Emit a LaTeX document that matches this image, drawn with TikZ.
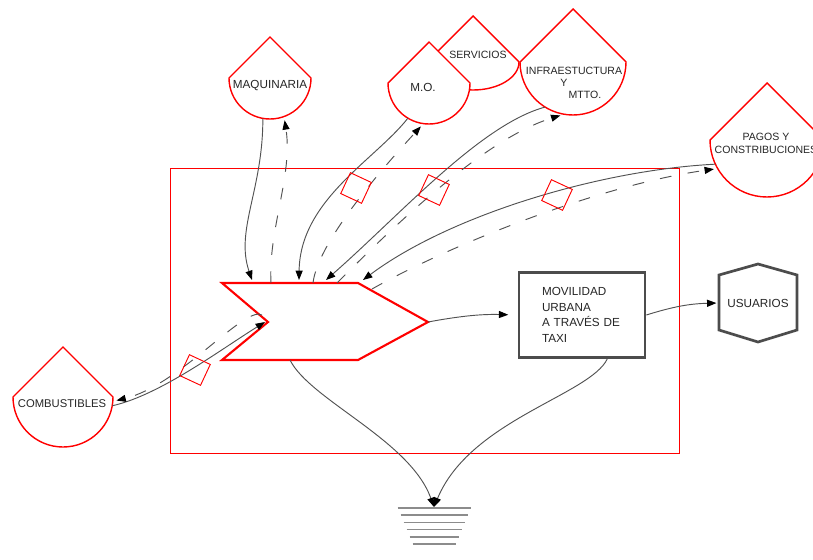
\documentclass[tikz,border=0pt]{standalone}
\usepackage{fontspec}
\setmainfont{Liberation Sans}
\usetikzlibrary{arrows.meta}

% gota: nombre, x, y, radio
\newcommand{\gota}[4]{%
  \filldraw[gota] (#2-#4,#3) -- (#2,#3+#4) -- (#2+#4,#3) arc[start angle=0,end angle=-180,radius=#4] -- cycle;
  \node[circle, minimum size=#4*0.06cm, inner sep=0pt] (#1) at (#2,#3) {};
}

\begin{document}
\begin{tikzpicture}[x=0.03cm, y=0.03cm,
    gota/.style={draw=red, line width=1.2pt, fill=white},
    marco/.style={draw=red, line width=0.8pt},
    chevron/.style={draw=red, line width=1.8pt, fill=white},
    caja/.style={draw=black!70, line width=2.3pt, fill=white},
    texto/.style={text=black!85, font=\fontsize{9}{11}\selectfont, inner sep=0pt, align=center},
    flujo/.style={draw=black!68, line width=0.8pt, -{Triangle[length=8pt,width=6pt,color=black]}},
    dinero/.style={flujo, dash pattern=on 10pt off 14pt, shorten >=3pt},
    valvula/.style={draw=red, line width=0.8pt, minimum size=0.69cm, inner sep=0pt, rotate=-25},
    tierra/.style={draw=black!45, line width=1.5pt}]
  \useasboundingbox (0,0) rectangle (813,-559);

  % sistema
  \draw[marco] (170,-168) rectangle (679,-453);

  % fuentes
  \gota{maq}{270}{-78}{41}
  \filldraw[gota] (427,-62) -- (473,-16) -- (519,-62) arc[start angle=0,end angle=-180,x radius=46,y radius=28] -- cycle;
  \gota{mo}{429}{-83}{41}
  \gota{infra}{573}{-62}{53}
  \gota{pagos}{767}{-140}{57}
  \gota{comb}{63}{-397}{50}

  \node[texto, font=\fontsize{10}{12}\selectfont] (maqt) at (270,-86) {MAQUINARIA};
  \node[texto] (servt) at (478,-55) {SERVICIOS};
  \node[texto, font=\fontsize{10}{12}\selectfont] (mot) at (423,-87) {M.O.};
  \node[texto, font=\fontsize{9}{10.5}\selectfont] (infrat) at (574,-83) {INFRAESTUCTURA\\\hspace*{-0.6cm}Y\\\hspace*{0.66cm}MTTO.};
  \node[texto] (pagost) at (766,-143) {PAGOS Y\\CONSTRIBUCIONES};
  \node[texto, font=\fontsize{9.6}{11}\selectfont] (combt) at (62,-404) {COMBUSTIBLES};

  % interaccion
  \filldraw[chevron] (222,-283) -- (358,-283) -- (428,-322) -- (358,-360) -- (222,-360) -- (268,-322) -- cycle;
  \coordinate (punta) at (428,-322);
  \coordinate (muesca) at (265,-322);
  \coordinate (base) at (290,-360);
  \coordinate (e1) at (252,-280);
  \coordinate (s1) at (271,-283);
  \coordinate (e2) at (299,-280);
  \coordinate (s2) at (313,-283);
  \coordinate (e3) at (326,-280);
  \coordinate (s3) at (337,-283);
  \coordinate (e4) at (363,-280);
  \coordinate (s4) at (372,-289);
  \coordinate (s5) at (262,-315);
  \coordinate (sumidero) at (434,-507);

  % salidas
  \node[caja, text=black!85, minimum width=3.78cm, minimum height=2.55cm, text width=2.4cm, align=left,
        font=\fontsize{10}{13.3}\selectfont] (mov) at (582,-315) {MOVILIDAD\\URBANA\\A TRAVÉS DE\\TAXI};
  \draw[caja] (719,-275) -- (758,-264) -- (797,-275) -- (797,-330) -- (758,-342) -- (719,-330) -- cycle;
  \node[texto, font=\fontsize{10}{12}\selectfont, minimum width=2.34cm, minimum height=2.34cm] (usr) at (758,-303) {USUARIOS};

  % flujos
  \draw[flujo] (maq.-100) .. controls (263,-190) and (235,-230) .. (e1);
  \draw[dinero] (s1) .. controls (268,-230) and (293,-175) .. (maq.-70);
  \draw[flujo] (mo.-121) .. controls (375,-160) and (300,-200) .. (e2);
  \draw[dinero] (s2) .. controls (318,-240) and (390,-160) .. (mo.-98);
  \draw[flujo] (infra.-122) .. controls (480,-125) and (400,-215) .. (e3);
  \draw[dinero] (s3) .. controls (380,-240) and (480,-140) .. (infra.-100);
  \draw[flujo] (pagos.-155) .. controls (600,-170) and (450,-215) .. (e4);
  \draw[dinero] (s4) .. controls (450,-245) and (600,-185) .. (pagos.-150);
  \draw[flujo] (comb.-10) .. controls (160,-395) and (220,-350) .. (muesca);
  \draw[dinero] (s5) .. controls (245,-305) and (180,-385) .. (comb.-5);

  \draw[flujo, shorten >=8pt] (punta) to[bend left=6] (mov.west);
  \draw[flujo, shorten >=2pt] (mov.east) to[bend left=8] (usr.west);
  \draw[flujo] (base) .. controls (310,-400) and (410,-440) .. (sumidero);
  \draw[flujo] (mov.-60) .. controls (590,-395) and (470,-420) .. (sumidero);

  % valvulas
  \node[valvula] (v1) at (356,-188) {};
  \node[valvula] (v2) at (434,-190) {};
  \node[valvula] (v3) at (557,-195) {};
  \node[valvula] (v4) at (195,-370) {};

  % sumidero
  \foreach \i in {0,...,5}
    \draw[tierra] (434-36.5+3*\i,-508-7.2*\i) -- (434+36.5-3*\i,-508-7.2*\i);
\end{tikzpicture}
\end{document}
